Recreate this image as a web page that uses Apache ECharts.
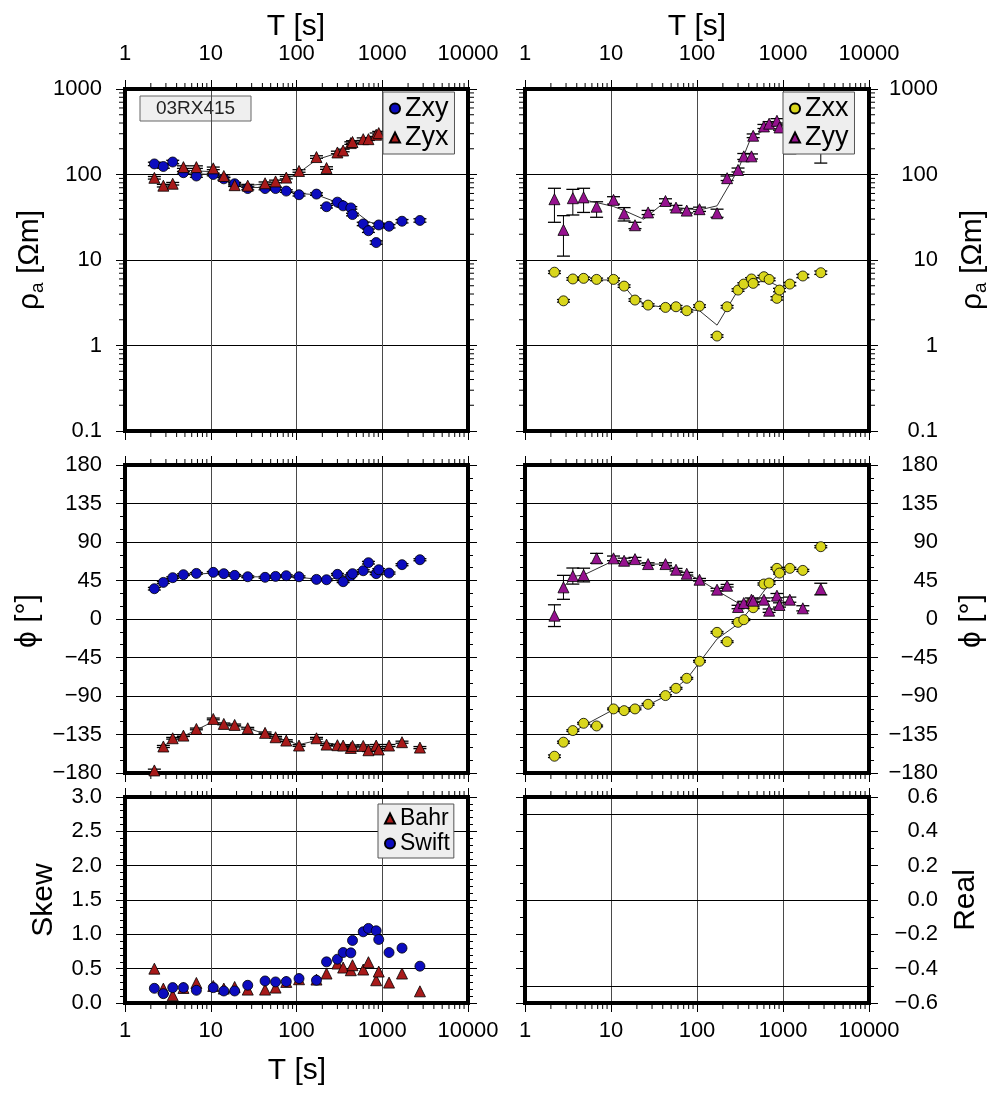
<!DOCTYPE html>
<html>
<head>
<meta charset="utf-8">
<script src="https://cdn.jsdelivr.net/npm/echarts@6/dist/echarts.min.js"></script>
<style>
html,body{margin:0;padding:0;background:#fff;}
#chart{width:1000px;height:1095px;}
</style>
</head>
<body>
<div id="chart"></div>
<script>
// Station 03RX415 – magnetotelluric response vs period
const periods = [2.2, 2.8, 3.6, 4.8, 6.8, 10.7, 14.2, 19, 27, 43, 57, 76, 107, 171, 224, 300, 350, 430, 450, 600, 690, 850, 910, 1200, 1700, 2750];

// apparent resistivity (Ohm m)
const rhoZxy = [133, 124, 140, 105, 96, 100, 89, 78, 68.5, 68.5, 68.5, 64, 58, 59, 42, 47.5, 43, 40.7, 34, 26.4, 22, 16, 25.7, 24.8, 28.4, 29];
const rhoZyx = [91.5, 74, 78, 122, 122, 118, 96, 75, 74, 79, 83, 92, 110, 160, 119, 181, 191, 233, 240, 259, 259, 292, 305];
const rhoZxx = [7.2, 3.33, 6.0, 6.1, 5.93, 5.93, 4.95, 3.4, 2.97, 2.79, 2.84, 2.55, 2.89, 1.29, 2.84, 4.45, 5.23, 6.0, 5.33, 6.38, 5.93, 3.56, 4.45, 5.23, 6.5, 7.1];
const rhoZyy = [51.4, 22.5, 52.8, 54, 42, 50.5, 35, 25.5, 36, 49, 41, 37.8, 39.3, 35.2, 90.6, 113, 163, 163, 284, 365, 393, 425, 355, 260, null, 220];

// resistivity errors: log10 half widths for the off-diagonal and Zxx terms
const rhoZxyErr = [0.02, 0.02, 0.02, 0.015, 0.015, 0.015, 0.015, 0.015, 0.015, 0.015, 0.015, 0.015, 0.015, 0.015, 0.015, 0.015, 0.015, 0.015, 0.015, 0.02, 0.02, 0.02, 0.02, 0.02, 0.02, 0.02];
const rhoZyxErr = [0.015, 0.015, 0.015, 0.015, 0.015, 0.015, 0.015, 0.015, 0.015, 0.015, 0.015, 0.015, 0.015, 0.015, 0.015, 0.015, 0.015, 0.015, 0.015, 0.015, 0.015, 0.02, 0.02];
const rhoZxxErr = [0.015, 0.015, 0.015, 0.015, 0.015, 0.015, 0.015, 0.015, 0.015, 0.015, 0.015, 0.015, 0.015, 0.015, 0.015, 0.015, 0.015, 0.015, 0.015, 0.015, 0.015, 0.02, 0.02, 0.02, 0.02, 0.02];
// Zyy resistivity error bounds
const rhoZyyLo = [27.6, 11.1, 33.6, 36, 31.6, 45, 28.6, 23.3, 34, 46, 38.5, 35.5, 37, 31.6, 85, 107, 150, 152, 270, 345, 370, 400, 330, 175, null, 136];
const rhoZyyHi = [69, 33, 67, 69, 48, 55, 41, 27.6, 38, 52, 43.5, 40, 41.5, 39.3, 96, 119, 176, 174, 298, 385, 415, 450, 380, 400, null, 360];

// phase (degrees)
const phiZxy = [35.4, 42.8, 48.3, 51.8, 53.3, 54.5, 53, 51, 49.4, 48.7, 49.8, 50.6, 49.4, 46.3, 45.9, 52.2, 43.6, 50.6, 53, 56.4, 65.8, 53, 57.6, 53.7, 63.5, 69.3];
const phiZyx = [-177, -149, -139.4, -136.3, -128.5, -116.8, -122.6, -123.8, -127.7, -133.1, -138.2, -142.1, -147.9, -139.4, -146.8, -147.5, -147.9, -150.7, -148.3, -148.3, -153.4, -147.9, -152.5, -147.9, -144, -150.3];
const phiZxx = [-160.4, -144, -130.4, -121.9, -125, -105.1, -107.1, -105.1, -99.7, -89.5, -81, -69.3, -49.4, -15.6, -26.5, -3.9, -0.8, 18.7, 13.2, 40.9, 42, 59.2, 53.7, 59.2, 56.8, 84.5];
const phiZyy = [3.9, 37, 50.2, 51.4, 70.9, 70.9, 68.1, 70, 64.2, 64.2, 57.6, 52.9, 45.9, 34.3, 38.9, 14, 18.7, 22.6, 21.4, 22.6, 9.7, 27.3, 16.4, 22.6, 12.5, 35];

// phase errors (degrees, half widths)
const phiZxyErr = [1.5, 1.2, 1, 1, 1, 1, 1, 1, 1, 1, 1, 1, 1, 1, 1, 1, 1, 1, 1, 1.2, 1.5, 1.2, 1.2, 1.2, 1.2, 1.2];
const phiZyxErr = [1.5, 1.2, 1, 1, 1, 1, 1, 1, 1, 1, 1, 1, 1, 1, 1, 1, 1, 1, 1, 1.2, 1.5, 1.2, 1.2, 1.2, 1.2, 1.2];
const phiZxxErr = [1.5, 1.2, 1, 1, 1, 1, 1, 1, 1, 1, 1, 1, 1, 1, 1, 1, 1, 1, 1, 1.2, 1.5, 1.2, 1.2, 1.2, 1.2, 1.2];
const phiZyyErr = [12.7, 14, 9.4, 8, 5.8, 2.7, 3, 2, 1.5, 1.5, 1.5, 1.5, 1.5, 1.5, 1.5, 2, 2, 2, 2, 2, 2, 2.5, 2.5, 3, 3, 6.8];

// model responses
const modelOffT = [4.8, 6.8, 10.7, 14.2, 19, 27, 43, 76, 107, 171, 300, 430, 690, 910];
const modelRhoZxy = [105, 102, 100, 91, 79, 71, 70, 66, 60, 58, 47, 40.3, 28.1, 25.7];
const modelRhoZyx = [113, 110, 108, 95, 76, 74, 78, 88, 105, 149, 178, 223, 262, 300];
const modelZyyT = [4.8, 6.8, 10.7, 14.2, 24, 43, 57, 107, 171, 300, 430, 690, 910];
const modelRhoZyy = [50.5, 47, 42.2, 37.9, 30, 48.3, 41, 38.5, 43, 113, 279, 349, 343];
const modelZxxT = [6.8, 10.7, 14.2, 19, 27, 43, 107, 171, 300, 430, 690, 910];
const modelRhoZxx = [5.84, 5.84, 4.95, 3.46, 2.97, 2.79, 2.55, 1.73, 4.45, 5.58, 5.58, 4.87];

const modelPhiZxyT = [2.8, 4.8, 10.7, 27, 107, 224, 450, 910];
const modelPhiZxy = [42, 51.4, 53.7, 49.4, 48.7, 45.5, 51.4, 57.6];
const modelPhiZyxT = [2.8, 4.8, 10.7, 27, 76, 107, 171, 300, 910];
const modelPhiZyx = [-147.9, -137, -119.9, -127.7, -142.1, -146.8, -142.1, -147.1, -149.9];
const modelPhiZyyT = [2.8, 3.6, 4.8, 10.7, 27, 43, 76, 107, 171, 300, 450, 690];
const modelPhiZyy = [37, 49.8, 51.4, 68.1, 64.2, 64.2, 52.9, 45.9, 33.1, 18.7, 19.5, 21.4];
const modelPhiZxxT = [3.6, 4.8, 10.7, 27, 43, 76, 107, 171, 300, 450, 690, 910];
const modelPhiZxx = [-132.4, -124.6, -105.9, -100.4, -90.3, -70.1, -50.6, -23.4, -5.8, 15.6, 40.9, 53.7];

// skew
const skewBahr = [0.5, 0.21, 0.112, 0.219, 0.292, 0.248, 0.21, 0.234, 0.195, 0.195, 0.224, 0.307, 0.346, 0.341, 0.429, 0.575, 0.516, 0.477, 0.55, 0.487, 0.594, 0.331, 0.458, 0.297, 0.429, 0.17];
const skewSwift = [0.214, 0.136, 0.224, 0.224, 0.185, 0.224, 0.175, 0.175, 0.258, 0.321, 0.307, 0.312, 0.356, 0.331, 0.599, 0.638, 0.735, 0.73, 0.911, 1.037, 1.086, 1.052, 0.925, 0.735, 0.799, 0.536];

// reference lines on the induction-arrow (Real) panel
const realRefLines = [0.5, 0, -0.5];

const FONT = '"Liberation Sans", Arial, Helvetica, sans-serif';
const COL = { zxy: '#0c0cbf', zyx: '#a81a1a', zxx: '#d9d61c', zyy: '#96128f' };

const gridBoxes = [
  { left: 125, top: 89, width: 343, height: 342 },
  { left: 525, top: 89, width: 344, height: 342 },
  { left: 125, top: 465, width: 343, height: 308 },
  { left: 525, top: 465, width: 344, height: 308 },
  { left: 125, top: 797, width: 343, height: 206 },
  { left: 525, top: 797, width: 344, height: 206 }
];

// y-axis settings per panel
const yCfg = [
  { log: true, min: 0.1, max: 1000, side: 'left' },
  { log: true, min: 0.1, max: 1000, side: 'right' },
  { min: -180, max: 180, interval: 45, minor: 3, side: 'left', fmt: v => String(v).replace('-', '\u2212') },
  { min: -180, max: 180, interval: 45, minor: 3, side: 'right', fmt: v => String(v).replace('-', '\u2212') },
  { min: 0, max: 3, interval: 0.5, minor: 5, side: 'left', fmt: v => v.toFixed(1) },
  { min: -0.6, max: 0.6, interval: 0.2, minor: 2, side: 'right', fmt: v => (Math.abs(v) < 1e-9 ? 0 : v).toFixed(1).replace('-', '\u2212'), noGrid: true }
];
// which x axis carries labels in each panel
const xLabelSide = ['top', 'top', null, null, 'bottom', 'bottom'];

const labelStyle = { color: '#000', fontFamily: FONT, fontSize: 22 };
const frameLine = { show: true, onZero: false, lineStyle: { color: '#000', width: 4, cap: 'square' } };
const majorTick = { show: true, inside: false, length: 9, lineStyle: { color: '#000', width: 1 } };

const logFmt = v => String(parseFloat(Number(v).toPrecision(6)));

const xAxis = [], yAxis = [];
gridBoxes.forEach((b, g) => {
  ['bottom', 'top'].forEach(pos => {
    const lbl = xLabelSide[g] === pos;
    xAxis.push({
      type: 'log', logBase: 10, min: 1, max: 10000, splitNumber: 4, gridIndex: g, position: pos,
      axisLine: frameLine, axisTick: majorTick,
      axisLabel: lbl ? Object.assign({ show: true, margin: pos === 'top' ? 24 : 17, formatter: logFmt, showMinLabel: true, showMaxLabel: true }, labelStyle) : { show: false },
      splitLine: pos === 'bottom' ? { show: true, lineStyle: { color: '#4a4a4a', width: 1 } } : { show: false }
    });
  });
  const c = yCfg[g];
  ['left', 'right'].forEach(pos => {
    const lbl = c.side === pos;
    const ax = {
      gridIndex: g, position: pos, min: c.min, max: c.max,
      axisLine: frameLine, axisTick: majorTick,
      axisLabel: lbl ? Object.assign({
        show: true, showMinLabel: true, showMaxLabel: true,
        margin: pos === 'left' ? 23 : 69, align: 'right',
        formatter: c.log ? logFmt : c.fmt
      }, labelStyle) : { show: false },
      splitLine: (pos === 'left' && !c.noGrid) ? { show: true, lineStyle: { color: '#000', width: 1 } } : { show: false }
    };
    if (c.log) { ax.type = 'log'; ax.logBase = 10; ax.splitNumber = 4; }
    else {
      ax.type = 'value'; ax.interval = c.interval;
      ax.minorTick = { show: true, splitNumber: c.minor, length: 5, lineStyle: { color: '#000', width: 1 } };
    }
    yAxis.push(ax);
  });
});

// log minor tick values (2..9 within each decade)
function logMinor(lo, hi) {
  const out = [];
  for (let d = lo; d < hi * 0.999; d *= 10) for (let m = 2; m <= 9; m++) out.push(d * m);
  return out;
}

// custom series drawing log minor ticks on the panel edges
function minorTickSeries(g) {
  const c = yCfg[g];
  const data = [];
  logMinor(1, 10000).forEach(v => { data.push([v, c.min, 0]); data.push([v, c.max, 1]); });
  if (c.log) logMinor(c.min, c.max).forEach(v => { data.push([1, v, 2]); data.push([10000, v, 3]); });
  return {
    type: 'custom', xAxisIndex: 2 * g, yAxisIndex: 2 * g, silent: true, clip: false, z: 1,
    data, encode: { x: 0, y: 1 },
    renderItem(params, api) {
      const p = api.coord([api.value(0), api.value(1)]);
      const s = api.value(2), L = 6;
      let sh;
      if (s === 0) sh = { x1: p[0], y1: p[1], x2: p[0], y2: p[1] + L };
      else if (s === 1) sh = { x1: p[0], y1: p[1], x2: p[0], y2: p[1] - L };
      else if (s === 2) sh = { x1: p[0], y1: p[1], x2: p[0] - L, y2: p[1] };
      else sh = { x1: p[0], y1: p[1], x2: p[0] + L, y2: p[1] };
      return { type: 'line', shape: sh, style: { stroke: '#000', lineWidth: 1 } };
    }
  };
}

// vertical error bars with caps
function errSeries(g, xs, lo, hi) {
  const data = [];
  lo.forEach((l, i) => { if (l != null && hi[i] != null) data.push([xs[i], l, hi[i]]); });
  return {
    type: 'custom', xAxisIndex: 2 * g, yAxisIndex: 2 * g, silent: true, clip: false, z: 2,
    data, encode: { x: 0, y: [1, 2] },
    renderItem(params, api) {
      const a = api.coord([api.value(0), api.value(1)]);
      const b = api.coord([api.value(0), api.value(2)]);
      const w = 6.5;
      return {
        type: 'group', children: [
          { type: 'line', shape: { x1: a[0], y1: a[1], x2: b[0], y2: b[1] }, style: { stroke: '#000', lineWidth: 1 } },
          { type: 'line', shape: { x1: a[0] - w, y1: a[1], x2: a[0] + w, y2: a[1] }, style: { stroke: '#000', lineWidth: 1.3 } },
          { type: 'line', shape: { x1: b[0] - w, y1: b[1], x2: b[0] + w, y2: b[1] }, style: { stroke: '#000', lineWidth: 1.3 } }
        ]
      };
    }
  };
}
const logBounds = (vals, err, sign) => vals.map((v, i) => v == null ? null : v * Math.pow(10, sign * err[i]));
const linBounds = (vals, err, sign) => vals.map((v, i) => v == null ? null : v + sign * err[i]);

function scatter(g, name, xs, ys, symbol, color) {
  return {
    type: 'scatter', name, xAxisIndex: 2 * g, yAxisIndex: 2 * g, z: 4,
    symbol, symbolSize: symbol === 'triangle' ? 11 : 10,
    itemStyle: { color, borderColor: '#000', borderWidth: 0.8, opacity: 1 },
    emphasis: { disabled: true }, silent: true,
    data: ys.map((v, i) => [xs[i], v]).filter(d => d[1] != null)
  };
}
function model(g, xs, ys) {
  return {
    type: 'line', xAxisIndex: 2 * g, yAxisIndex: 2 * g, z: 3, symbol: 'none', silent: true,
    lineStyle: { color: '#333', width: 1 }, data: xs.map((t, i) => [t, ys[i]])
  };
}

const series = [];
for (let g = 0; g < 6; g++) series.push(minorTickSeries(g));

// top-left: off-diagonal resistivity
series.push(errSeries(0, periods, logBounds(rhoZxy, rhoZxyErr, -1), logBounds(rhoZxy, rhoZxyErr, 1)));
series.push(errSeries(0, periods, logBounds(rhoZyx, rhoZyxErr, -1), logBounds(rhoZyx, rhoZyxErr, 1)));
series.push(model(0, modelOffT, modelRhoZxy));
series.push(model(0, modelOffT, modelRhoZyx));
series.push(scatter(0, 'Zxy', periods, rhoZxy, 'circle', COL.zxy));
series.push(scatter(0, 'Zyx', periods, rhoZyx, 'triangle', COL.zyx));

// top-right: diagonal resistivity
series.push(errSeries(1, periods, logBounds(rhoZxx, rhoZxxErr, -1), logBounds(rhoZxx, rhoZxxErr, 1)));
series.push(errSeries(1, periods, rhoZyyLo, rhoZyyHi));
series.push(model(1, modelZyyT, modelRhoZyy));
series.push(model(1, modelZxxT, modelRhoZxx));
series.push(scatter(1, 'Zxx', periods, rhoZxx, 'circle', COL.zxx));
series.push(scatter(1, 'Zyy', periods, rhoZyy, 'triangle', COL.zyy));

// middle-left: off-diagonal phase
series.push(errSeries(2, periods, linBounds(phiZxy, phiZxyErr, -1), linBounds(phiZxy, phiZxyErr, 1)));
series.push(errSeries(2, periods, linBounds(phiZyx, phiZyxErr, -1), linBounds(phiZyx, phiZyxErr, 1)));
series.push(model(2, modelPhiZxyT, modelPhiZxy));
series.push(model(2, modelPhiZyxT, modelPhiZyx));
series.push(scatter(2, 'Zxy', periods, phiZxy, 'circle', COL.zxy));
series.push(scatter(2, 'Zyx', periods, phiZyx, 'triangle', COL.zyx));

// middle-right: diagonal phase
series.push(errSeries(3, periods, linBounds(phiZxx, phiZxxErr, -1), linBounds(phiZxx, phiZxxErr, 1)));
series.push(errSeries(3, periods, linBounds(phiZyy, phiZyyErr, -1), linBounds(phiZyy, phiZyyErr, 1)));
series.push(model(3, modelPhiZyyT, modelPhiZyy));
series.push(model(3, modelPhiZxxT, modelPhiZxx));
series.push(scatter(3, 'Zxx', periods, phiZxx, 'circle', COL.zxx));
series.push(scatter(3, 'Zyy', periods, phiZyy, 'triangle', COL.zyy));

// bottom-left: skew
series.push(scatter(4, 'Bahr', periods, skewBahr, 'triangle', COL.zyx));
series.push(scatter(4, 'Swift', periods, skewSwift, 'circle', COL.zxy));

// bottom-right: Real panel reference lines
series.push({
  type: 'line', xAxisIndex: 10, yAxisIndex: 10, data: [], silent: true,
  markLine: {
    silent: true, symbol: 'none', label: { show: false },
    lineStyle: { color: '#000', width: 1, type: 'solid' },
    data: realRefLines.map(v => ({ yAxis: v }))
  }
});

const legendBase = {
  orient: 'vertical', selectedMode: false,
  backgroundColor: '#eeeeee', borderColor: '#555', borderWidth: 1, borderRadius: 0,
  itemWidth: 10, itemHeight: 10, itemGap: 2, z: 10,
  textStyle: { color: '#000', fontFamily: FONT, fontSize: 27 }
};
const legend = [
  Object.assign({}, legendBase, { left: 383, top: 92, padding: [3, 6, 3, 6], data: [{ name: 'Zxy', icon: 'circle' }, { name: 'Zyx', icon: 'triangle' }] }),
  Object.assign({}, legendBase, { left: 783, top: 92, padding: [3, 6, 3, 6], data: [{ name: 'Zxx', icon: 'circle' }, { name: 'Zyy', icon: 'triangle' }] }),
  Object.assign({}, legendBase, { left: 378, top: 804, padding: [3, 4, 3, 6], textStyle: { color: '#000', fontFamily: FONT, fontSize: 23 }, data: [{ name: 'Bahr', icon: 'triangle' }, { name: 'Swift', icon: 'circle' }] })
];

const titleFont = { fontFamily: FONT, fontSize: 30, fill: '#000' };
function vText(x, y, text, rich) {
  return {
    type: 'text', x, y, rotation: Math.PI / 2, z: 10,
    style: Object.assign({ text, align: 'center', verticalAlign: 'middle', rich }, titleFont)
  };
}
const rhoRich = {
  g: { fontFamily: FONT, fontSize: 30, lineHeight: 34, fill: '#000' },
  s: { fontFamily: FONT, fontSize: 19, lineHeight: 19, verticalAlign: 'bottom', fill: '#000' }
};
const rhoLabel = '{g|\u03C1}{s|a}{g| [\u03A9m]}';
const phiLabel = '\u03D5 [\u00B0]';

const graphic = [
  { type: 'text', x: 296, y: 27, z: 10, style: Object.assign({ text: 'T [s]', align: 'center', verticalAlign: 'middle' }, titleFont) },
  { type: 'text', x: 697, y: 27, z: 10, style: Object.assign({ text: 'T [s]', align: 'center', verticalAlign: 'middle' }, titleFont) },
  { type: 'text', x: 297, y: 1071, z: 10, style: Object.assign({ text: 'T [s]', align: 'center', verticalAlign: 'middle' }, titleFont) },
  vText(30, 260, rhoLabel, rhoRich),
  vText(973, 260, rhoLabel, rhoRich),
  vText(28, 621, phiLabel),
  vText(972, 621, phiLabel),
  vText(44, 900, 'Skew'),
  vText(966, 900, 'Real'),
  {
    type: 'group', z: 10, children: [
      { type: 'rect', shape: { x: 140, y: 96, width: 111, height: 25 }, style: { fill: '#efefef', stroke: '#666', lineWidth: 1 } },
      { type: 'text', x: 195.5, y: 109, style: { text: '03RX415', align: 'center', verticalAlign: 'middle', fontFamily: FONT, fontSize: 19, fill: '#222' } }
    ]
  }
];

const chart = echarts.init(document.getElementById('chart'), null, { renderer: 'canvas' });
chart.setOption({
  animation: false,
  backgroundColor: '#fff',
  grid: gridBoxes.map(b => Object.assign({ containLabel: false, outerBoundsMode: 'none' }, b)),
  xAxis, yAxis, series, legend, graphic
});
</script>
</body>
</html>
